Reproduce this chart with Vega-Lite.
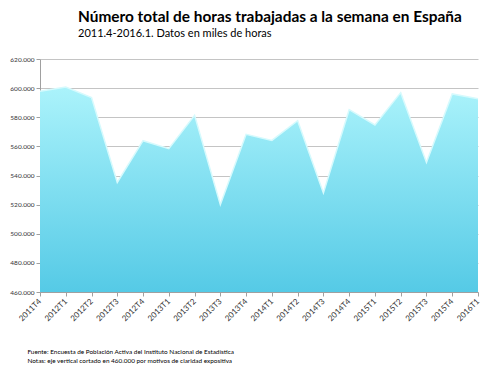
{
  "$schema": "https://vega.github.io/schema/vega-lite/v6.json",
  "autosize": {"type": "none"},
  "width": 438,
  "height": 233,
  "padding": {"left": 40, "top": 59, "right": 21, "bottom": 76},
  "background": "white",
  "title": {
    "text": "Número total de horas trabajadas a la semana en España",
    "subtitle": "2011.4-2016.1. Datos en miles de horas",
    "anchor": "start",
    "frame": "group",
    "dx": 38,
    "offset": 17,
    "font": "Lato",
    "fontSize": 15.4,
    "fontWeight": "bold",
    "color": "#000000",
    "subtitleFont": "Lato",
    "subtitleFontSize": 11,
    "subtitleColor": "#000000",
    "subtitlePadding": 3
  },
  "data": {
    "values": [
      {"t": "2011T4", "v": 597.8},
      {"t": "2012T1", "v": 600.8},
      {"t": "2012T2", "v": 593.6},
      {"t": "2012T3", "v": 535.3},
      {"t": "2012T4", "v": 563.9},
      {"t": "2013T1", "v": 558.4},
      {"t": "2013T2", "v": 581.3},
      {"t": "2013T3", "v": 520.0},
      {"t": "2013T4", "v": 568.3},
      {"t": "2014T1", "v": 564.1},
      {"t": "2014T2", "v": 577.6},
      {"t": "2014T3", "v": 528.0},
      {"t": "2014T4", "v": 585.2},
      {"t": "2015T1", "v": 574.7},
      {"t": "2015T2", "v": 596.9},
      {"t": "2015T3", "v": 549.0},
      {"t": "2015T4", "v": 596.0},
      {"t": "2016T1", "v": 592.7}
    ]
  },
  "encoding": {
    "x": {
      "field": "t",
      "type": "ordinal",
      "sort": null,
      "scale": {"type": "point", "padding": 0},
      "axis": {
        "labelAngle": -45,
        "labelFont": "Lato",
        "labelFontSize": 8,
        "labelColor": "#333333",
        "labelAlign": "right",
        "labelBaseline": "middle",
        "labelPadding": 4,
        "labelOverlap": false,
        "domainColor": "#a0a0a0",
        "tickColor": "#a0a0a0",
        "tickSize": 4,
        "grid": false,
        "title": ["Fuente: Encuesta de Población Activa del Instituto Nacional de Estadística", "Notas: eje vertical cortado en 460.000 por motivos de claridad expositiva"],
        "titleFont": "Lato",
        "titleFontSize": 6.4,
        "titleFontWeight": "normal",
        "titleColor": "#000000",
        "titleAnchor": "start",
        "titleAlign": "left",
        "titleBaseline": "alphabetic",
        "titleX": -13,
        "titleY": 61,
        "titleLineHeight": 9
      }
    },
    "y": {
      "field": "v",
      "type": "quantitative",
      "scale": {"domain": [460, 620], "nice": false, "zero": false},
      "axis": {
        "values": [460, 480, 500, 520, 540, 560, 580, 600, 620],
        "labelExpr": "format(datum.value, '.0f') + '.000'",
        "labelFont": "Lato",
        "labelFontSize": 6.5,
        "labelColor": "#333333",
        "labelPadding": 2,
        "tickSize": 4,
        "tickColor": "#a0a0a0",
        "domainColor": "#a0a0a0",
        "gridColor": "#c4c4c4",
        "gridWidth": 1,
        "title": null
      }
    }
  },
  "layer": [
    {
      "mark": {
        "type": "area",
        "interpolate": "linear",
        "color": {
          "gradient": "linear",
          "x1": 0, "y1": 0, "x2": 0, "y2": 1,
          "stops": [
            {"offset": 0, "color": "#abf3fb"},
            {"offset": 1, "color": "#55cae6"}
          ]
        }
      },
      "encoding": {"y2": {"datum": 460}}
    },
    {
      "mark": {"type": "line", "color": "#d6fafd", "strokeWidth": 1.5, "interpolate": "linear"}
    }
  ],
  "config": {"view": {"stroke": null}}
}
